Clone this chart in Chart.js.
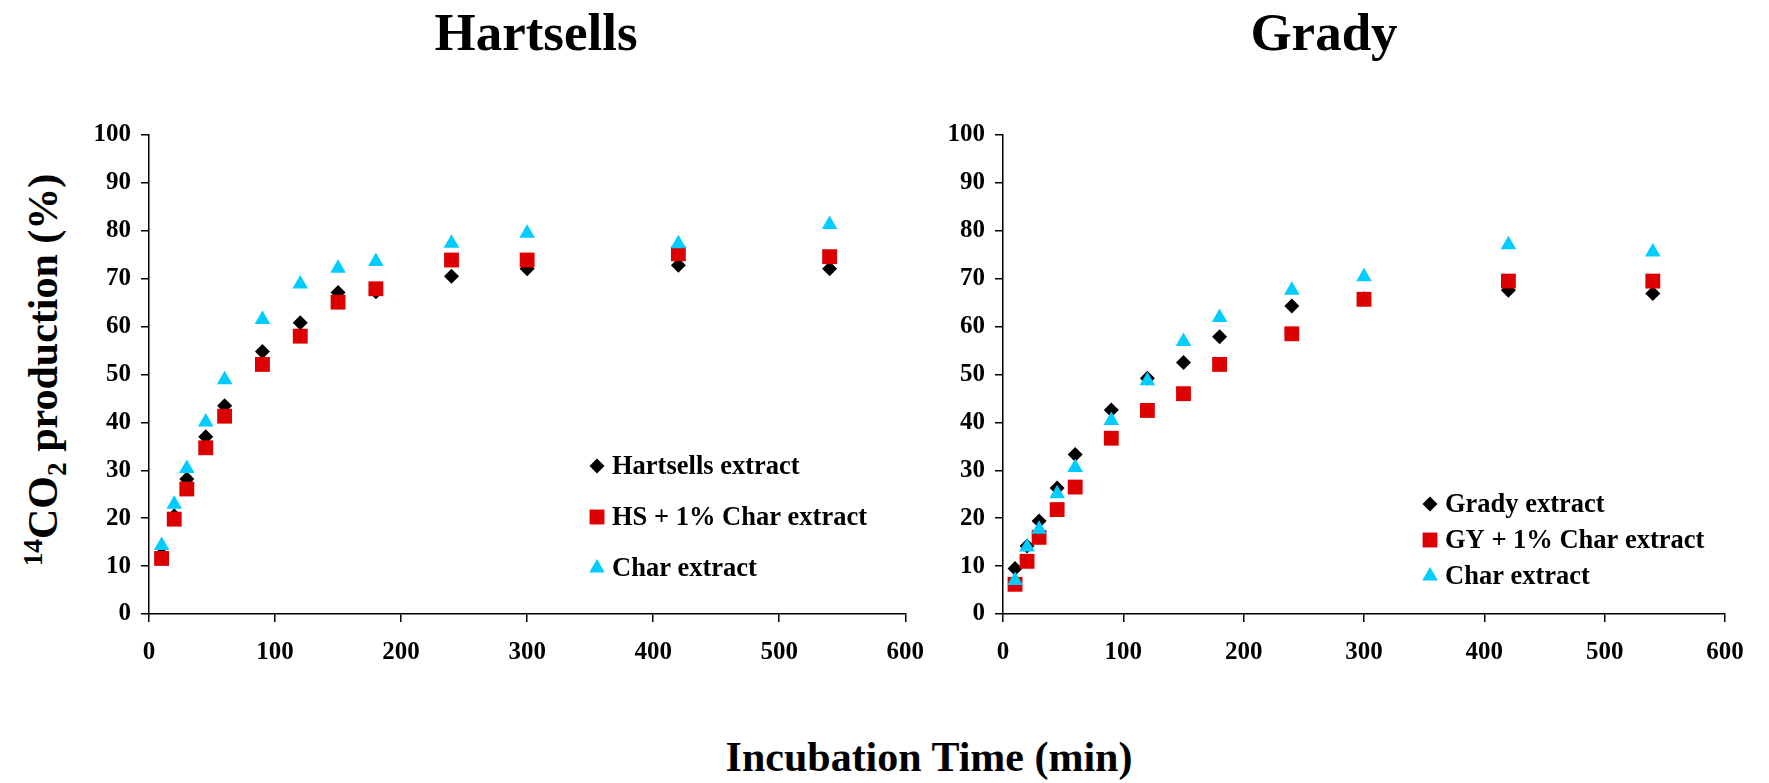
<!DOCTYPE html>
<html>
<head>
<meta charset="utf-8">
<script src="https://cdn.jsdelivr.net/npm/chart.js@4.4.1/dist/chart.umd.min.js"></script>
<style>
  body { margin: 0; background: #fff; }
  #wrap { position: relative; width: 1769px; height: 783px; overflow: hidden; font-family: 'Liberation Serif', 'Times New Roman', serif; font-weight: bold; color: #000; }
  .title { position: absolute; top: 6px; font-size: 53px; line-height: 1; white-space: nowrap; transform: translateX(-50%); }
  #ylab { position: absolute; left: 43px; top: 370px; font-size: 42px; line-height: 1; white-space: nowrap; transform: translate(-50%, -50%) rotate(-90deg); }
  #ylab sup, #ylab sub { font-size: 0.65em; line-height: 0; }
  #xlab { position: absolute; left: 929px; top: 736px; font-size: 42px; line-height: 1; white-space: nowrap; transform: translateX(-50%); }
  .box { position: absolute; top: 0; height: 700px; }
</style>
</head>
<body>
<div id="wrap">
  <div class="title" style="left:536px">Hartsells</div>
  <div class="title" style="left:1324px">Grady</div>
  <div id="ylab"><sup>14</sup>CO<sub>2</sub> production (%)</div>
  <div id="xlab">Incubation Time (min)</div>
  <div class="box" style="left:0;width:940px"><canvas id="hartsells" width="940" height="700"></canvas></div>
  <div class="box" style="left:940px;width:829px"><canvas id="grady" width="829" height="700"></canvas></div>
</div>
<script>
// incubation times (min), shared by every series
const times = [10, 20, 30, 45, 60, 90, 120, 150, 180, 240, 300, 420, 540];

// Hartsells panel (% 14CO2 produced)
const hartsellsExtract = [12.5, 20.5, 28.2, 37.0, 43.5, 54.8, 60.8, 67.1, 67.3, 70.5, 72.1, 72.8, 72.1];
const hsCharExtract = [11.6, 19.8, 26.1, 34.7, 41.3, 52.1, 58.0, 65.1, 67.9, 73.9, 73.9, 75.2, 74.6];
const hsCharOnly = [14.3, 22.9, 30.4, 40.1, 48.9, 61.5, 68.9, 72.2, 73.6, 77.4, 79.5, 77.3, 81.3];

// Grady panel
const gradyExtract = [9.5, 14.2, 19.4, 26.3, 33.3, 42.6, 49.2, 52.5, 57.9, 64.3, 65.8, 67.6, 66.9];
const gyCharExtract = [6.2, 11.0, 16.0, 21.8, 26.5, 36.7, 42.5, 46.0, 52.1, 58.5, 65.7, 69.5, 69.5];
const gyCharOnly = [7.0, 14.0, 17.7, 25.1, 30.6, 40.4, 48.7, 56.9, 61.9, 67.6, 70.4, 77.1, 75.6];

const xTicks = [0, 100, 200, 300, 400, 500, 600];
const yTicks = [0, 10, 20, 30, 40, 50, 60, 70, 80, 90, 100];

const serif = 'Liberation Serif';

// legend drawn inside the plot area, offsets are from the chart area's top-left
const insideLegend = {
    id: 'insideLegend',
    afterDraw(chart, args, opts) {
        const ctx = chart.ctx;
        const area = chart.chartArea;
        ctx.save();
        ctx.font = `bold ${opts.size}px ${serif}`;
        ctx.textBaseline = 'middle';
        chart.data.datasets.forEach((ds, i) => {
            const x = area.left + opts.x;
            const y = area.top + opts.y + i * opts.spacing;
            ctx.fillStyle = ds.backgroundColor;
            Chart.helpers.drawPoint(ctx, { pointStyle: ds.pointStyle, radius: ds.pointRadius, borderWidth: 0, rotation: 0 }, x, y);
            ctx.fillStyle = '#000';
            ctx.fillText(ds.label, x + 15, y + 1);
        });
        ctx.restore();
    }
};

function series(label, values, style) {
    const looks = {
        diamond: { pointStyle: 'rectRot', pointRadius: 7.5, backgroundColor: '#000000', order: 3 },
        square: { pointStyle: 'rect', pointRadius: 10.5, backgroundColor: '#DD0000', order: 2 },
        triangle: { pointStyle: 'triangle', pointRadius: 9, backgroundColor: '#00CCFF', order: 1 }
    }[style];
    return {
        label,
        data: times.map((t, i) => ({ x: t, y: values[i] })),
        showLine: false,
        pointBorderWidth: 0,
        pointHoverRadius: looks.pointRadius,
        clip: false,
        ...looks
    };
}

function makeChart(id, datasets, box) {
    const tickFont = { family: serif, weight: 'bold', size: 25 };
    const axisGrid = { drawOnChartArea: false, drawTicks: true, tickLength: 8, color: '#000', lineWidth: 1.5 };
    return new Chart(document.getElementById(id), {
        type: 'scatter',
        data: { datasets },
        options: {
            responsive: false,
            animation: false,
            layout: { padding: { top: 135, right: box.right, left: 0, bottom: 0 } },
            scales: {
                x: {
                    type: 'linear',
                    min: 0,
                    max: 600,
                    afterBuildTicks: s => { s.ticks = xTicks.map(v => ({ value: v })); },
                    afterFit: s => { s.height = 86; },
                    grid: axisGrid,
                    border: { color: '#000', width: 1.5 },
                    ticks: { font: tickFont, color: '#000', padding: 16, maxRotation: 0 }
                },
                y: {
                    type: 'linear',
                    min: 0,
                    max: 100,
                    afterBuildTicks: s => { s.ticks = yTicks.map(v => ({ value: v })); },
                    afterFit: s => { s.width = box.yWidth; },
                    grid: axisGrid,
                    border: { color: '#000', width: 1.5 },
                    ticks: { font: tickFont, color: '#000', padding: 10 }
                }
            },
            plugins: {
                legend: { display: false },
                tooltip: { enabled: false },
                insideLegend: box.legend
            }
        },
        plugins: [insideLegend]
    });
}

makeChart('hartsells', [
    series('Hartsells extract', hartsellsExtract, 'diamond'),
    series('HS + 1% Char extract', hsCharExtract, 'square'),
    series('Char extract', hsCharOnly, 'triangle')
], { right: 31, yWidth: 149, legend: { x: 448, y: 331, spacing: 51, size: 26.5 } });

makeChart('grady', [
    series('Grady extract', gradyExtract, 'diamond'),
    series('GY + 1% Char extract', gyCharExtract, 'square'),
    series('Char extract', gyCharOnly, 'triangle')
], { right: 44, yWidth: 63, legend: { x: 427, y: 369, spacing: 36, size: 26.5 } });
</script>
</body>
</html>
